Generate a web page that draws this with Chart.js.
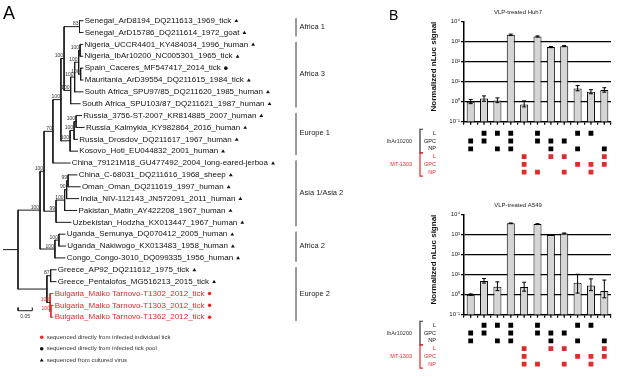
<!DOCTYPE html>
<html>
<head>
<meta charset="utf-8">
<script src="https://cdn.jsdelivr.net/npm/chart.js@4.4.1/dist/chart.umd.min.js"></script>
<style>
  body { margin: 0; background: #fff; }
  #wrap { position: relative; width: 617px; height: 377px; background: #fff; overflow: hidden; }
  .box { position: absolute; }
  .panel { position: absolute; font-family: 'Liberation Sans', Arial, sans-serif; line-height: 1; color: #000; }
</style>
</head>
<body>
<div id="wrap">
  <div class="box" style="left:0;top:0;width:425px;height:377px"><canvas id="tree"></canvas></div>
  <div class="box" style="left:425px;top:0;width:192px;height:130px"><canvas id="huh"></canvas></div>
  <div class="box" style="left:370px;top:125px;width:247px;height:55px"><canvas id="huhGrid"></canvas></div>
  <div class="box" style="left:425px;top:193px;width:192px;height:130px"><canvas id="a549"></canvas></div>
  <div class="box" style="left:370px;top:317px;width:247px;height:55px"><canvas id="a549Grid"></canvas></div>
  <div class="panel" style="left:3px;top:4px;font-size:18px">A</div>
  <div class="panel" style="left:389px;top:8px;font-size:14px">B</div>
</div>
<script>
Chart.defaults.font.family = "'Liberation Sans', Arial, sans-serif";
Chart.defaults.color = '#000';

const RED = '#e32b2b';

// ---- panel A: tree (distances from root, substitutions/site) ----
const leafNames = [
  'Senegal_ArD8194_DQ211613_1969_tick',
  'Senegal_ArD15786_DQ211614_1972_goat',
  'Nigeria_UCCR4401_KY484034_1996_human',
  'Nigeria_IbAr10200_NC005301_1965_tick',
  'Spain_Caceres_MF547417_2014_tick',
  'Mauritania_ArD39554_DQ211615_1984_tick',
  'South Africa_SPU97/85_DQ211620_1985_human',
  'South Africa_SPU103/87_DQ211621_1987_human',
  'Russia_3756-ST-2007_KR814885_2007_human',
  'Russia_Kalmykia_KY982864_2016_human',
  'Russia_Drosdov_DQ211617_1967_human',
  'Kosovo_Hoti_EU044832_2001_human',
  'China_79121M18_GU477492_2004_long-eared-jerboa',
  'China_C-68031_DQ211616_1968_sheep',
  'Oman_Oman_DQ211619_1997_human',
  'India_NIV-112143_JN572091_2011_human',
  'Pakistan_Matin_AY422208_1967_human',
  'Uzbekistan_Hodzha_KX013447_1967_human',
  'Uganda_Semunya_DQ070412_2005_human',
  'Uganda_Nakiwogo_KX013483_1958_human',
  'Congo_Congo-3010_DQ099335_1956_human',
  'Greece_AP92_DQ211612_1975_tick',
  'Greece_Pentalofos_MG516213_2015_tick',
  'Bulgaria_Malko Tarnovo-T1302_2012_tick',
  'Bulgaria_Malko Tarnovo-T1303_2012_tick',
  'Bulgaria_Malko Tarnovo-T1362_2012_tick'
];
const leafDist = [0.227, 0.227, 0.226, 0.226, 0.227, 0.227, 0.227, 0.217, 0.222, 0.231,
  0.208, 0.208, 0.182, 0.206, 0.217, 0.212, 0.205, 0.185, 0.164, 0.166, 0.164,
  0.133, 0.133, 0.122, 0.122, 0.122];
// c = cultured virus, p = tick pool, i = individual tick
const leafSource = ['c','c','c','c','p','c','c','c','c','c','c','c','c','c','c','c','c','c','c','c','c','c','c','i','i','i'];

const nodeNames   = ['root','UPPER','MID','EUAFCH','AFEU','AF13','SEN','AF3','AF3a','AF3b','NIG','SPM',
                     'EU1','EU1a','EU1b','ASIA','ASIA2','ASIA3','ASIA4','AF2','UGA','EU2','GRE','BUL','BUL2'];
const nodeDist    = [0, 0.077, 0.091, 0.122, 0.150, 0.161, 0.215, 0.184, 0.198, 0.212, 0.217, 0.219,
                     0.182, 0.196, 0.203, 0.133, 0.163, 0.170, 0.175, 0.129, 0.143, 0.101, 0.114, 0.112, 0.115];
const nodeKids    = [['UPPER','EU2'], ['MID','AF2'], ['EUAFCH','ASIA'], ['AFEU',12], ['AF13','EU1'],
                     ['SEN','AF3'], [0,1], ['AF3a',7], ['AF3b',6], ['NIG','SPM'], [2,3], [4,5],
                     ['EU1a',11], ['EU1b',10], [8,9], ['ASIA2',17], ['ASIA3',16], ['ASIA4',15], [13,14],
                     ['UGA',20], [18,19], ['GRE','BUL'], [21,22], [23,'BUL2'], [24,25]];
const nodeSupport = [null, 100, 100, 70, 100, 100, 83, 100, 100, 100, 100, 100,
                     100, 100, 100, 99, 100, 90, 99, 100, 100, null, 87, 100, 100];
const redNodes = ['BUL','BUL2'];

const cladeNames = ['Africa 1','Africa 3','Europe 1','Asia 1/Asia 2','Africa 2','Europe 2'];
const cladeFirst = [0, 2, 8, 12, 18, 21];
const cladeLast  = [1, 7, 11, 17, 20, 25];

const legendTexts = ['sequenced directly from infected individual tick',
                     'sequenced directly from infected tick pool',
                     'sequenced from cultured virus'];
const legendSource = ['i','p','c'];

// ---- panel B: bar charts ----
const constructs = ['1','2','3','4','5','6','7','8','9','10','11'];
const decades = [0.1, 1, 10, 100, 1000, 10000];
const decadeLabels = ['10\u207B\u00B9','10\u2070','10\u00B9','10\u00B2','10\u00B3','10\u2074'];

const huhMean = [1.0, 1.45, 1.15, 2200, 0.72, 1800, 540, 600, 4.6, 3.1, 3.9];
const huhLow  = [0.8, 1.05, 0.9, 2050, 0.55, 1700, 505, 565, 3.5, 2.5, 3.0];
const huhHigh = [1.3, 1.95, 1.55, 2400, 1.1, 1950, 575, 640, 6.4, 4.0, 5.0];

const a549Mean = [1.0, 4.8, 2.5, 3700, 2.4, 3400, 960, 1150, 4.0, 2.9, 1.55];
const a549Low  = [0.92, 3.8, 1.6, 3550, 1.5, 3250, 920, 1100, 1.2, 1.6, 0.7];
const a549High = [1.1, 6.4, 4.4, 3850, 4.2, 3550, 1000, 1220, 10.5, 6.2, 5.4];

const rowNames = ['L','GPC','NP','L','GPC','NP'];
const groupNames = ['IbAr10200','MT-1303'];
const ibL   = [0,1,1,1,0,1,0,0,1,1,0];
const ibGPC = [1,1,0,1,0,1,1,1,0,0,0];
const ibNP  = [1,0,1,1,0,0,1,0,1,0,1];
const mtL   = [0,0,0,0,1,0,1,1,0,0,1];
const mtGPC = [0,0,0,0,1,0,0,0,1,1,1];
const mtNP  = [0,0,0,0,1,1,0,1,0,1,0];

// ---------- tree layout ----------
const nodeY = {};
const yOf = k => typeof k === 'number' ? k : nodeY[k];
const xOf = k => typeof k === 'number' ? leafDist[k] : nodeDist[nodeNames.indexOf(k)];
function place(name) {
  const i = nodeNames.indexOf(name);
  nodeKids[i].forEach(k => { if (typeof k !== 'number') place(k); });
  const ys = nodeKids[i].map(yOf);
  nodeY[name] = (ys[0] + ys[ys.length - 1]) / 2;
}
place('root');

const GAP = {x: null, y: null};
const blackSegs = [], redSegs = [];
nodeNames.forEach((n, i) => {
  const segs = redNodes.includes(n) ? redSegs : blackSegs;
  const kids = nodeKids[i];
  segs.push({x: nodeDist[i], y: yOf(kids[0])}, {x: nodeDist[i], y: yOf(kids[kids.length - 1])}, GAP);
  kids.forEach(k => segs.push({x: nodeDist[i], y: yOf(k)}, {x: xOf(k), y: yOf(k)}, GAP));
});
blackSegs.push({x: -0.052, y: nodeY.root}, {x: 0, y: nodeY.root}, GAP);

const cladeSegs = [];
cladeNames.forEach((c, i) => {
  cladeSegs.push({x: 0.972, y: cladeFirst[i] - 0.2}, {x: 0.972, y: cladeLast[i] + 0.3}, GAP);
});
const scaleBar = [{x: 0, y: 24.2}, {x: 0, y: 24.45}, {x: 0.05, y: 24.45}, {x: 0.05, y: 24.2}];

function marker(ctx, kind, x, y, color) {
  ctx.fillStyle = color;
  ctx.beginPath();
  if (kind === 'c') {
    ctx.moveTo(x, y - 1.8); ctx.lineTo(x + 1.9, y + 1.4); ctx.lineTo(x - 1.9, y + 1.4); ctx.closePath();
  } else {
    ctx.arc(x, y, 1.8, 0, Math.PI * 2);
  }
  ctx.fill();
}

const treeText = {
  id: 'treeText',
  afterDatasetsDraw(chart) {
    const {ctx, scales: {x, y}} = chart;
    ctx.save();
    ctx.textBaseline = 'middle';
    ctx.textAlign = 'left';
    ctx.font = "8px 'Liberation Sans', Arial, sans-serif";
    leafNames.forEach((name, i) => {
      const red = leafSource[i] === 'i';
      const px = x.getPixelForValue(leafDist[i]) + 1.8;
      const py = y.getPixelForValue(i);
      ctx.fillStyle = red ? RED : '#111';
      ctx.fillText(name, px, py);
      const w = ctx.measureText(name).width;
      marker(ctx, leafSource[i], px + w + 5, py, red ? RED : '#111');
    });
    // bootstrap values
    ctx.font = "5px 'Liberation Sans', Arial, sans-serif";
    ctx.textAlign = 'right';
    ctx.textBaseline = 'bottom';
    nodeNames.forEach((n, i) => {
      if (nodeSupport[i] == null) return;
      ctx.fillStyle = redNodes.includes(n) ? RED : '#333';
      ctx.fillText(String(nodeSupport[i]), x.getPixelForValue(nodeDist[i]) - 1, y.getPixelForValue(nodeY[n]) - 0.3);
    });
    // scale bar label
    ctx.textAlign = 'center';
    ctx.textBaseline = 'top';
    ctx.fillStyle = '#333';
    ctx.fillText('0.05', x.getPixelForValue(0.025), y.getPixelForValue(24.45) + 3.5);
    // clade labels
    ctx.font = "7.5px 'Liberation Sans', Arial, sans-serif";
    ctx.textAlign = 'left';
    ctx.textBaseline = 'middle';
    ctx.fillStyle = '#222';
    cladeNames.forEach((c, i) => {
      ctx.fillText(c, x.getPixelForValue(0.972) + 3.5, y.getPixelForValue((cladeFirst[i] + cladeLast[i]) / 2));
    });
    // legend
    ctx.font = "6px 'Liberation Sans', Arial, sans-serif";
    legendTexts.forEach((t, i) => {
      const ly = 337.3 + i * 11.4;
      marker(ctx, legendSource[i], 41.7, ly, legendSource[i] === 'i' ? RED : '#111');
      ctx.fillStyle = '#333';
      ctx.fillText(t, 46.7, ly);
    });
    ctx.restore();
  }
};

const lineSet = (data, color, width) => ({
  data, showLine: true, borderColor: color, borderWidth: width, pointRadius: 0,
  spanGaps: false, borderCapStyle: 'square', fill: false
});

new Chart(document.getElementById('tree'), {
  type: 'scatter',
  data: {
    datasets: [
      lineSet(blackSegs, '#1a1a1a', 1),
      lineSet(redSegs, RED, 1),
      lineSet(cladeSegs, '#8c8c8c', 1),
      lineSet(scaleBar, '#1a1a1a', 1)
    ]
  },
  options: {
    animation: false, responsive: true, maintainAspectRatio: false,
    layout: {padding: 0},
    plugins: {legend: {display: false}, tooltip: {enabled: false}},
    scales: {
      x: {type: 'linear', display: false, min: -0.063, max: 1.423},
      y: {type: 'linear', display: false, reverse: true, min: -1.745, max: 30.04}
    }
  },
  plugins: [treeText]
});

// ---------- bar charts ----------
const errorBars = {
  id: 'errorBars',
  afterDatasetsDraw(chart, args, opts) {
    const {ctx, scales: {x, y}, chartArea} = chart;
    ctx.save();
    ctx.strokeStyle = '#000';
    opts.low.forEach((lo, i) => {
      const cx = x.getPixelForValue(i);
      const yl = y.getPixelForValue(lo), yh = y.getPixelForValue(opts.high[i]);
      ctx.lineWidth = 1;
      ctx.beginPath();
      ctx.moveTo(cx, yl); ctx.lineTo(cx, yh);
      ctx.moveTo(cx - 2, yl); ctx.lineTo(cx + 2, yl);
      ctx.moveTo(cx - 2, yh); ctx.lineTo(cx + 2, yh);
      ctx.stroke();
      // centre tick on x axis
      ctx.lineWidth = 1.3;
      ctx.beginPath();
      ctx.moveTo(cx, chartArea.bottom); ctx.lineTo(cx, chartArea.bottom + 3);
      ctx.stroke();
    });
    ctx.restore();
  }
};

function barChart(id, title, mean, low, high) {
  return new Chart(document.getElementById(id), {
    type: 'bar',
    data: {
      labels: constructs,
      datasets: [{
        data: mean, backgroundColor: '#d5d5d5', borderColor: '#000', borderWidth: 1,
        barPercentage: 0.6, categoryPercentage: 1
      }]
    },
    options: {
      animation: false, responsive: true, maintainAspectRatio: false,
      layout: {padding: {top: 0, right: 6, left: 0, bottom: 0}},
      plugins: {
        legend: {display: false}, tooltip: {enabled: false},
        title: {display: true, text: title, color: '#222', font: {size: 6, weight: 'normal'}, padding: {top: 9, bottom: 5.5}},
        errorBars: {low, high}
      },
      scales: {
        x: {
          ticks: {display: false},
          grid: {drawOnChartArea: false, color: '#000', tickLength: 3, lineWidth: 1.2},
          border: {color: '#000', width: 1.5},
          afterFit: s => { s.height = 8.3; }
        },
        y: {
          type: 'logarithmic', min: 0.1, max: 10000,
          afterBuildTicks: s => { s.ticks = decades.map(v => ({value: v})); },
          ticks: {
            callback: v => decadeLabels[decades.indexOf(v)] || '',
            font: {size: 6}, padding: 1, color: '#222'
          },
          grid: {
            color: c => (c.tick && c.tick.value > 0.1 && c.tick.value < 10000) ? '#000' : 'rgba(0,0,0,0)',
            tickColor: '#000', tickLength: 3, lineWidth: 1.2
          },
          border: {color: '#000', width: 1.5},
          title: {display: true, text: 'Normalized nLuc signal', align: 'end', color: '#111',
                  font: {size: 8, weight: 'bold'}, padding: {top: 4, bottom: 0}},
          afterFit: s => { s.width = 39; }
        }
      }
    },
    plugins: [errorBars]
  });
}

barChart('huh', 'VLP-treated Huh7', huhMean, huhLow, huhHigh);
barChart('a549', 'VLP-treated A549', a549Mean, a549Low, a549High);

// ---------- segment matrices ----------
const matrixLabels = {
  id: 'matrixLabels',
  afterDraw(chart) {
    const {ctx, scales: {y}, chartArea} = chart;
    ctx.save();
    ctx.font = "5.5px 'Liberation Sans', Arial, sans-serif";
    ctx.textBaseline = 'middle';
    // row labels
    ctx.textAlign = 'right';
    rowNames.forEach((n, r) => {
      ctx.fillStyle = r < 3 ? '#111' : RED;
      ctx.fillText(n, chartArea.left - 28, y.getPixelForValue(r));
    });
    // group brackets
    groupNames.forEach((g, gi) => {
      const col = gi === 0 ? '#333' : RED;
      const top = y.getPixelForValue(gi * 3) - 4;
      const bot = y.getPixelForValue(gi * 3 + 2) + 4;
      const bx = chartArea.left - 44;
      ctx.strokeStyle = col;
      ctx.lineWidth = 1.2;
      ctx.beginPath();
      ctx.moveTo(bx + 3, top); ctx.lineTo(bx, top); ctx.lineTo(bx, bot); ctx.lineTo(bx + 3, bot);
      ctx.stroke();
      ctx.fillStyle = col;
      ctx.fillText(g, bx - 8, (top + bot) / 2);
    });
    ctx.restore();
  }
};

function matrixChart(id) {
  const rows = [ibL, ibGPC, ibNP, mtL, mtGPC, mtNP];
  const datasets = rows.map((flags, r) => ({
    data: flags.map((f, i) => f ? {x: i, y: r} : null).filter(Boolean),
    pointStyle: 'rect', pointRadius: 3.4, borderWidth: 0,
    backgroundColor: r < 3 ? '#000' : RED
  }));
  return new Chart(document.getElementById(id), {
    type: 'scatter',
    data: {datasets},
    options: {
      animation: false, responsive: true, maintainAspectRatio: false,
      layout: {padding: {top: 4.35, right: 6, left: 94, bottom: 3.25}},
      plugins: {legend: {display: false}, tooltip: {enabled: false}},
      scales: {
        x: {type: 'linear', display: false, min: -0.5, max: 10.5},
        y: {type: 'linear', display: false, reverse: true, min: -0.5, max: 5.5}
      }
    },
    plugins: [matrixLabels]
  });
}

matrixChart('huhGrid');
matrixChart('a549Grid');
</script>
</body>
</html>
